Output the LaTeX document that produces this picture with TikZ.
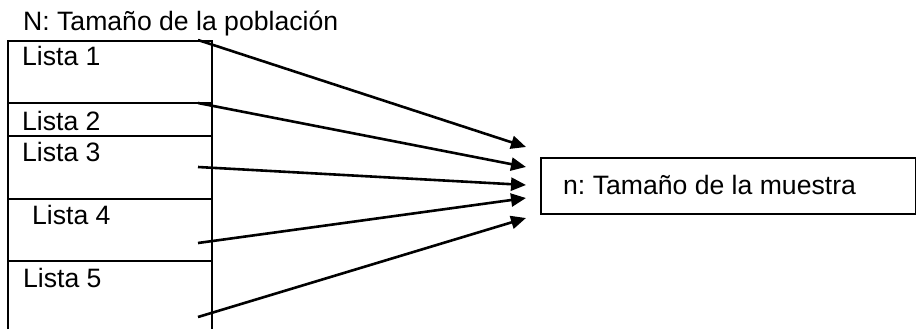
\documentclass[tikz,border=0pt]{standalone}
\usepackage{fontspec}
\setmainfont{Liberation Sans}
\usetikzlibrary{arrows.meta}
\frenchspacing
\begin{document}
\begin{tikzpicture}[x=1bp,y=-1bp,
  lbl/.style={anchor=base west,inner sep=0pt,font=\fontsize{26.6bp}{30bp}\selectfont\frenchspacing},
  boxline/.style={line width=2.6bp},
  arr/.style={line width=2.6bp,-{Triangle[length=15bp,width=13bp]}}]
\useasboundingbox (0,0) rectangle (916,329);
% left list box
\draw[boxline] (8,329) -- (8,41) -- (212,41) -- (212,329);
\draw[boxline] (8,103) -- (212,103);
\draw[boxline] (8,136) -- (212,136);
\draw[boxline] (8,199) -- (212,199);
\draw[boxline] (8,261) -- (212,261);
% labels
\node[lbl] (title) at (23,30) {N: Tamaño de la población};
\node[lbl] (l1) at (22,65) {Lista 1};
\node[lbl] (l2) at (22,130) {Lista 2};
\node[lbl] (l3) at (22,161) {Lista 3};
\node[lbl] (l4) at (32,224) {Lista 4};
\node[lbl] (l5) at (23,287) {Lista 5};
% right box
\node[draw,line width=1.6bp,minimum width=375bp,minimum height=56bp,anchor=north west,inner sep=0pt] (muestra) at (540,157) {};
\node[lbl] (mtext) at (563,194) {n: Tamaño de la muestra};
% arrows
\coordinate (s1) at (198,40);
\coordinate (s2) at (198,103);
\coordinate (s3) at (198,167);
\coordinate (s4) at (198,243);
\coordinate (s5) at (198,317);
\coordinate (t1) at (526,147);
\coordinate (t2) at (526,167);
\coordinate (t3) at (526,185);
\coordinate (t4) at (526,198);
\coordinate (t5) at (526,218);
\draw[arr] (s1) -- (t1);
\draw[arr] (s2) -- (t2);
\draw[arr] (s3) -- (t3);
\draw[arr] (s4) -- (t4);
\draw[arr] (s5) -- (t5);
\end{tikzpicture}
\end{document}
